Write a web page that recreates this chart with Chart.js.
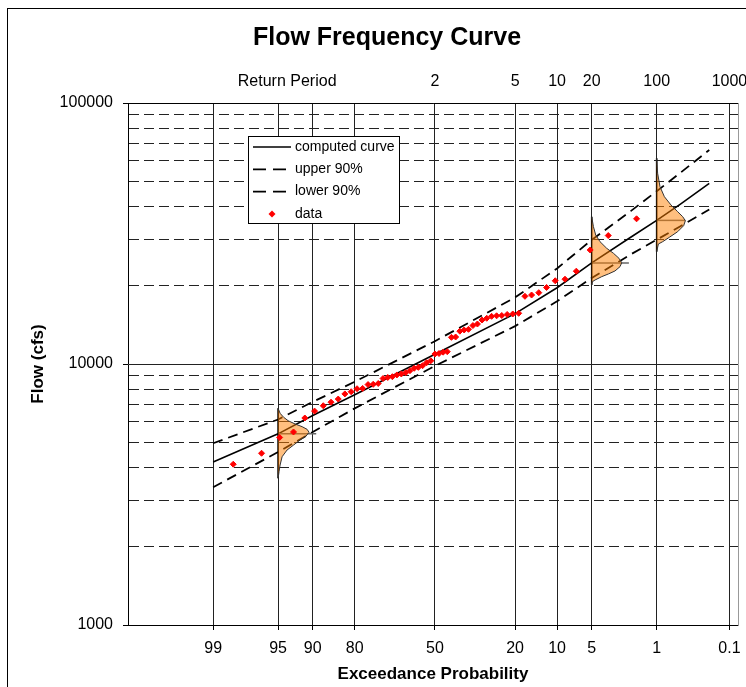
<!DOCTYPE html>
<html>
<head>
<meta charset="utf-8">
<script src="https://cdn.jsdelivr.net/npm/chart.js@4.4.1/dist/chart.umd.min.js"></script>
<style>
  body { margin: 0; background: #fff; }
  #wrap { position: relative; width: 746px; height: 687px; overflow: hidden; }
  #frame { position: absolute; left: 7px; top: 8px; width: 800px; height: 800px; border: 1px solid #000; pointer-events: none; }
</style>
</head>
<body>
<div id="wrap">
	<canvas id="freqChart" width="746" height="687"></canvas>
	<div id="frame"></div>
</div>
<script>
// exceedance probability (%) of each observed peak and its flow (cfs)
const dataPct = [1.72, 3.45, 5.17, 6.90, 8.62, 10.34, 12.07, 13.79, 15.52, 17.24, 18.97, 20.69, 22.41, 24.14,
	25.86, 27.59, 29.31, 31.03, 32.76, 34.48, 36.21, 37.93, 39.66, 41.38, 43.10, 44.83, 46.55, 48.28, 50.00,
	51.72, 53.45, 55.17, 56.90, 58.62, 60.34, 62.07, 63.79, 65.52, 67.24, 68.97, 70.69, 72.41, 74.14, 75.86,
	77.59, 79.31, 81.03, 82.76, 84.48, 86.21, 87.93, 89.66, 91.38, 93.10, 94.83, 96.55, 98.28];
const dataFlow = [36000, 31060, 27340, 22680, 21130, 20840, 19640, 18760, 18380, 18170, 15640, 15550, 15480, 15340,
	15300, 15230, 14970, 14740, 14230, 14040, 13580, 13500, 13360, 12690, 12650, 11150, 11100, 10970, 10920,
	10290, 10120, 9850, 9710, 9630, 9430, 9260, 9160, 9080, 8940, 8880, 8800, 8420, 8360, 8340,
	8060, 8040, 7830, 7680, 7340, 7140, 6920, 6600, 6210, 5490, 5230, 4550, 4130];

// fitted curve and 90% confidence limits
const curvePct = [99, 95, 90, 80, 50, 20, 10, 5, 2, 1, 0.5, 0.2];
const computedFlow = [4210, 5400, 6350, 7620, 10900, 15600, 19600, 24400, 30600, 35500, 41000, 49200];
const upperFlow = [4970, 6130, 7160, 8550, 12230, 17990, 23240, 29880, 38520, 45930, 54060, 66070];
const lowerFlow = [3370, 4600, 5490, 6760, 9830, 13970, 17390, 21350, 26290, 29940, 33720, 39080];

// sampling distributions of the estimate at 95%, 5% and 1%
const shapePct = [95, 5, 1];
const shapeMarkFlow = [5400, 24400, 35500];
const shapeMarkLen = [0.40, 0.39, 0.30];
const shapeFlow = [
	[6767, 6474, 6250, 6065, 5891, 5752, 5621, 5474, 5298, 5115, 4894, 4682, 4413, 4102, 3868, 3648],
	[36680, 33590, 31210, 29420, 27760, 26560, 25410, 24440, 23600, 22720, 22130, 21610, 20980, 20670, 20080],
	[61400, 53800, 47780, 43750, 40670, 38330, 36680, 35400, 33880, 32130, 30580, 29420, 28830, 26930]
];
const shapeDensity = [
	[0, 0.021, 0.058, 0.105, 0.178, 0.252, 0.304, 0.325, 0.294, 0.231, 0.163, 0.094, 0.042, 0.021, 0.010, 0],
	[0, 0.018, 0.042, 0.087, 0.157, 0.228, 0.286, 0.315, 0.297, 0.244, 0.175, 0.105, 0.035, 0.007, 0],
	[0, 0.010, 0.035, 0.081, 0.150, 0.220, 0.273, 0.301, 0.283, 0.220, 0.133, 0.063, 0.018, 0]
];

// axes
const probTicks = [99, 95, 90, 80, 50, 20, 10, 5, 1, 0.1];
const returnPeriods = [2, 5, 10, 20, 100, 1000];
const flowGrid = [1000, 2000, 3000, 4000, 5000, 6000, 7000, 8000, 9000,
	10000, 20000, 30000, 40000, 50000, 60000, 70000, 80000, 90000, 100000];

const U_MIN = -3.22;
const U_MAX = 3.18;

// exceedance % -> standard normal variate (probability paper)
function toU(pct) {
	const q = pct / 100;
	const tail = q < 0.5 ? q : 1 - q;
	const t = Math.sqrt(-2 * Math.log(tail));
	const z = t - (2.515517 + 0.802853 * t + 0.010328 * t * t) /
		(1 + 1.432788 * t + 0.189269 * t * t + 0.001308 * t * t * t);
	return q < 0.5 ? z : -z;
}

const isDecade = v => Math.abs(Math.log10(v) - Math.round(Math.log10(v))) < 1e-9;
const pts = (pcts, flows) => pcts.map((p, i) => ({ x: toU(p), y: flows[i] }));
const noPad = s => { s.paddingLeft = 0; s.paddingRight = 0; s.paddingTop = 0; s.paddingBottom = 0; };

const FONT = '"Liberation Sans", Arial, sans-serif';
Chart.defaults.font.family = FONT;
Chart.defaults.color = "#000";

const datasets = [
	{ label: "computed curve", data: pts(curvePct, computedFlow), borderColor: "#000", borderWidth: 1.6,
		pointRadius: 0, inLegend: true, order: 2 },
	{ label: "upper 90%", data: pts(curvePct, upperFlow), borderColor: "#000", borderWidth: 1.8,
		borderDash: [10, 6], pointRadius: 0, inLegend: true, order: 2 },
	{ label: "lower 90%", data: pts(curvePct, lowerFlow), borderColor: "#000", borderWidth: 1.8,
		borderDash: [10, 6], pointRadius: 0, inLegend: true, order: 2 },
	{ label: "data", data: pts(dataPct, dataFlow), showLine: false, pointStyle: "rectRot", pointRadius: 3,
		backgroundColor: "#ff0000", borderColor: "#ff0000", borderWidth: 1, inLegend: true, order: 0 }
];

shapePct.forEach((p, k) => {
	const u0 = toU(p);
	const flows = shapeFlow[k];
	datasets.push({
		data: flows.map((f, i) => ({ x: u0 + shapeDensity[k][i], y: f })),
		fill: "shape", backgroundColor: "rgba(255,128,0,0.5)", borderColor: "#333", borderWidth: 1,
		pointRadius: 0, order: 1
	});
	datasets.push({
		data: [{ x: u0, y: flows[0] }, { x: u0, y: flows[flows.length - 1] }],
		borderColor: "#000", borderWidth: 1.6, pointRadius: 0, order: 1
	});
	datasets.push({
		data: [{ x: u0, y: shapeMarkFlow[k] }, { x: u0 + shapeMarkLen[k], y: shapeMarkFlow[k] }],
		borderColor: "#666", borderWidth: 1.5, pointRadius: 0, order: 1
	});
});

// legend box drawn inside the plot area
const legendBox = {
	id: "legendBox",
	afterDatasetsDraw(chart) {
		const { ctx, chartArea } = chart;
		const x = chartArea.left + 120, y = chartArea.top + 33, w = 151, h = 87;
		ctx.save();
		ctx.fillStyle = "#fff";
		ctx.fillRect(x, y, w, h);
		ctx.strokeStyle = "#000";
		ctx.lineWidth = 1;
		ctx.strokeRect(x + 0.5, y + 0.5, w, h);
		ctx.font = "14px " + FONT;
		ctx.textBaseline = "middle";
		chart.data.datasets.filter(d => d.inLegend).forEach((ds, i) => {
			const cy = y + 11 + i * 22.3;
			if (ds.showLine === false) {
				ctx.fillStyle = ds.backgroundColor;
				ctx.beginPath();
				ctx.moveTo(x + 24, cy - 3.5);
				ctx.lineTo(x + 27.5, cy);
				ctx.lineTo(x + 24, cy + 3.5);
				ctx.lineTo(x + 20.5, cy);
				ctx.closePath();
				ctx.fill();
			} else {
				ctx.strokeStyle = ds.borderColor;
				ctx.lineWidth = ds.borderWidth;
				ctx.setLineDash(ds.borderDash ? [13, 7] : []);
				ctx.beginPath();
				ctx.moveTo(x + 5, cy);
				ctx.lineTo(x + 43, cy);
				ctx.stroke();
				ctx.setLineDash([]);
			}
			ctx.fillStyle = "#000";
			ctx.fillText(ds.label, x + 47, cy);
		});
		ctx.restore();
	}
};

new Chart(document.getElementById("freqChart"), {
	type: "line",
	data: { datasets: datasets },
	plugins: [legendBox],
	options: {
		responsive: false,
		devicePixelRatio: 1,
		animation: false,
		layout: { padding: { top: 23, left: 36, right: 8, bottom: 0 } },
		plugins: {
			legend: { display: false },
			tooltip: { enabled: false },
			title: {
				display: true, text: "Flow Frequency Curve", color: "#000",
				font: { family: FONT, size: 25, weight: "bold" }, padding: { top: 0, bottom: 0 }
			}
		},
		scales: {
			x: {
				type: "linear", position: "bottom", min: U_MIN, max: U_MAX,
				afterBuildTicks: s => { s.ticks = probTicks.map(p => ({ value: toU(p) })); },
				afterFit: s => { s.height = 62; noPad(s); },
				ticks: { autoSkip: false, maxRotation: 0, padding: 9.4, font: { size: 16 },
					callback: (v, i) => String(probTicks[i]) },
				grid: { color: "#222", lineWidth: 1, tickLength: 5, tickColor: "#000" },
				border: { color: "#000", width: 1 },
				title: { display: true, text: "Exceedance Probability", font: { size: 17, weight: "bold" },
					padding: { top: 0, bottom: 2.8 } }
			},
			x2: {
				type: "linear", position: "top", min: U_MIN, max: U_MAX,
				afterBuildTicks: s => {
					s.ticks = [{ value: -1.55 }].concat(returnPeriods.map(T => ({ value: toU(100 / T) })));
				},
				afterFit: s => { s.height = 50; noPad(s); },
				ticks: { autoSkip: false, maxRotation: 0, padding: 11.4, font: { size: 16 },
					callback: (v, i) => i === 0 ? "Return Period" : String(returnPeriods[i - 1]) },
				grid: { display: false, drawTicks: false },
				border: { color: "#000", width: 1 }
			},
			y: {
				type: "logarithmic", position: "left", min: 1000, max: 100000,
				afterBuildTicks: s => { s.ticks = flowGrid.map(v => ({ value: v })); },
				afterFit: s => { s.width = 92; noPad(s); },
				ticks: { autoSkip: false, padding: 10, font: { size: 16 },
					callback: v => isDecade(v) ? String(v) : "" },
				grid: { color: "#222", lineWidth: 1, tickLength: 5,
					tickColor: c => isDecade(c.tick.value) ? "#000" : "rgba(0,0,0,0)" },
				border: { color: "#000", width: 1,
					dash: c => (c.tick && !isDecade(c.tick.value)) ? [10, 5] : [] },
				title: { display: true, text: "Flow (cfs)", font: { size: 17, weight: "bold" },
					padding: { top: -8.2, bottom: 0 } }
			},
			y2: {
				type: "linear", position: "right", min: 0, max: 1,
				afterFit: s => { s.width = 0; noPad(s); },
				ticks: { display: false },
				grid: { display: false, drawTicks: false },
				border: { color: "#999", width: 1 }
			}
		}
	}
});
</script>
</body>
</html>
